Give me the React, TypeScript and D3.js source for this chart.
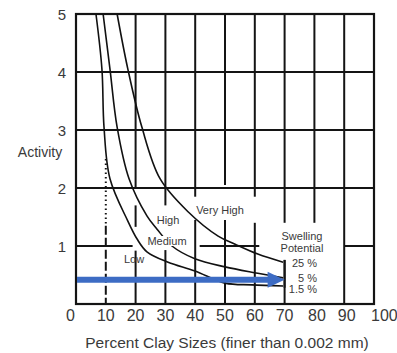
import React from "react";
import * as d3 from "d3";

// ---- data ----
const clayTicks = [0, 10, 20, 30, 40, 50, 60, 70, 80, 90, 100];
const activityTicks = [1, 2, 3, 4, 5];

// boundary curves (clay %, activity)
const lowMedClay = [6.7, 8.7, 9.4, 11.4, 17.4, 20.5, 23.8, 30.9, 39.9, 50, 59, 69.5];
const lowMedActivity = [5.0, 4.05, 3.05, 2.16, 1.43, 1.12, 0.9, 0.72, 0.57, 0.36, 0.33, 0.31];

const medHighClay = [9.1, 11.4, 13.8, 17.8, 23.8, 27.2, 32.2, 39.9, 50, 61, 69.5];
const medHighActivity = [5.0, 4.05, 3.05, 2.16, 1.52, 1.29, 1.0, 0.78, 0.64, 0.53, 0.45];

const highVhClay = [13.8, 17.4, 22.1, 28.2, 37.6, 47.7, 53.4, 61, 69.5];
const highVhActivity = [5.0, 4.05, 3.05, 2.16, 1.59, 1.17, 1.03, 0.86, 0.72];

const swellLabels = ["25 %", "5 %", "1.5 %"];
const zoneLabels = ["Low", "Medium", "High", "Very High"];

const arrowActivity = 0.42;
const arrowClayEnd = 70;

const FONT = "'Liberation Sans', Arial, Helvetica, sans-serif";

export default function App() {
  const W = 397;
  const H = 353;
  const x = d3.scaleLinear().domain([0, 100]).range([76, 374]);
  const y = d3.scaleLinear().domain([0, 5]).range([304, 14]);

  const line = d3
    .line<[number, number]>()
    .x((d) => x(d[0]))
    .y((d) => y(d[1]))
    .curve(d3.curveCatmullRom.alpha(0.5));

  const curves = [
    { c: lowMedClay, a: lowMedActivity },
    { c: medHighClay, a: medHighActivity },
    { c: highVhClay, a: highVhActivity },
  ];

  // drawn vertical grid segments (activity ranges) per clay value
  const vSegs: Record<number, [number, number][]> = {
    20: [[5, 2.0], [1.7, 1.33], [0.92, 0]],
    30: [[5, 1.7], [0.93, 0]],
    40: [[5, 1.85], [1.45, 0]],
    50: [[5, 2.05], [1.45, 0]],
    60: [[5, 1.85], [1.4, 0]],
    70: [[5, 1.4], [0.76, 0]],
    80: [[5, 1.4]],
    90: [[5, 0]],
  };
  const hSegs: Record<number, [number, number][]> = {
    4: [[0, 100]],
    3: [[0, 100]],
    2: [[0, 100]],
    1: [[0, 19], [41.5, 61.5], [90, 100]],
  };

  const gridColor = "#141414";
  const textColor = "#3a3a3a";

  const ay = y(arrowActivity);
  const ax1 = x(arrowClayEnd);

  return (
    <div style={{ position: "absolute", left: 0, top: 0, width: W, height: H, background: "#fff" }}>
      <svg width={W} height={H} style={{ display: "block" }}>
        <rect x={0} y={0} width={W} height={H} fill="#fff" />
        {/* vertical grid */}
        {Object.entries(vSegs).map(([k, segs]) =>
          segs.map((s, i) => (
            <line
              key={`v${k}-${i}`}
              x1={x(+k)}
              x2={x(+k)}
              y1={y(s[0])}
              y2={y(s[1])}
              stroke={gridColor}
              strokeWidth={2}
            />
          ))
        )}
        {/* clay 10 dotted / dashed line */}
        <line x1={x(10)} x2={x(10)} y1={y(2.5)} y2={y(1.35)} stroke={gridColor} strokeWidth={2} strokeDasharray="1.5 3" />
        <line x1={x(10)} x2={x(10)} y1={y(1.35)} y2={y(0)} stroke={gridColor} strokeWidth={2} strokeDasharray="9 3" />
        {/* horizontal grid */}
        {Object.entries(hSegs).map(([k, segs]) =>
          segs.map((s, i) => (
            <line
              key={`h${k}-${i}`}
              x1={x(s[0])}
              x2={x(s[1])}
              y1={y(+k)}
              y2={y(+k)}
              stroke={gridColor}
              strokeWidth={2}
            />
          ))
        )}
        {/* frame */}
        <rect
          x={x(0)}
          y={y(5)}
          width={x(100) - x(0)}
          height={y(0) - y(5)}
          fill="none"
          stroke={gridColor}
          strokeWidth={2.2}
        />
        {/* curves */}
        {curves.map((cv, i) => (
          <path
            key={`c${i}`}
            d={line(cv.c.map((c, j) => [c, cv.a[j]] as [number, number])) || ""}
            fill="none"
            stroke="#111"
            strokeWidth={1.6}
          />
        ))}
        {/* short end marker at 70 % */}
        <line x1={x(70)} x2={x(70)} y1={y(0.76)} y2={y(0.28)} stroke={gridColor} strokeWidth={2} />

        {/* zone labels */}
        <g fontFamily={FONT} fontSize={11} fill={textColor} textAnchor="middle">
          <rect x={146} y={236} width={43} height={10} fill="#fff" />
          <text x={167} y={245}>{zoneLabels[1]}</text>
          <text x={134} y={263}>{zoneLabels[0]}</text>
          <text x={168} y={224}>{zoneLabels[2]}</text>
          <text x={220} y={214}>{zoneLabels[3]}</text>
          <text x={302} y={240}>Swelling</text>
          <text x={302} y={252}>Potential</text>
          {swellLabels.map((s, i) => (
            <text key={s} x={317} y={[267, 282, 293][i]} textAnchor="end">
              {s}
            </text>
          ))}
        </g>

        {/* arrow */}
        <line x1={x(0) + 1} x2={ax1 - 16} y1={ay} y2={ay} stroke="#3d6cc4" strokeWidth={6} />
        <polygon
          points={`${ax1 - 17},${ay - 8} ${ax1},${ay} ${ax1 - 17},${ay + 8}`}
          fill="#3d6cc4"
        />

        {/* y tick labels */}
        <g fontFamily={FONT} fontSize={15} fill={textColor} textAnchor="end">
          {activityTicks.map((t) => (
            <text key={t} x={66} y={y(t) + 6}>
              {t}
            </text>
          ))}
        </g>
        <text x={40} y={157} fontFamily={FONT} fontSize={14} fill={textColor} textAnchor="middle">
          Activity
        </text>
        {/* x tick labels */}
        <g fontFamily={FONT} fontSize={16} fill={textColor}>
          {clayTicks.map((t) => (
            <text
              key={t}
              x={t === 0 ? x(t) - 1 : t === 100 ? x(t) - 3 : x(t) + (t >= 80 ? 2.5 : 0)}
              y={321}
              textAnchor={t === 0 ? "end" : t === 100 ? "start" : "middle"}
            >
              {t}
            </text>
          ))}
        </g>
        <text x={227} y={348} fontFamily={FONT} fontSize={15.5} fill={textColor} textAnchor="middle">
          Percent Clay Sizes (finer than 0.002 mm)
        </text>
      </svg>
    </div>
  );
}
